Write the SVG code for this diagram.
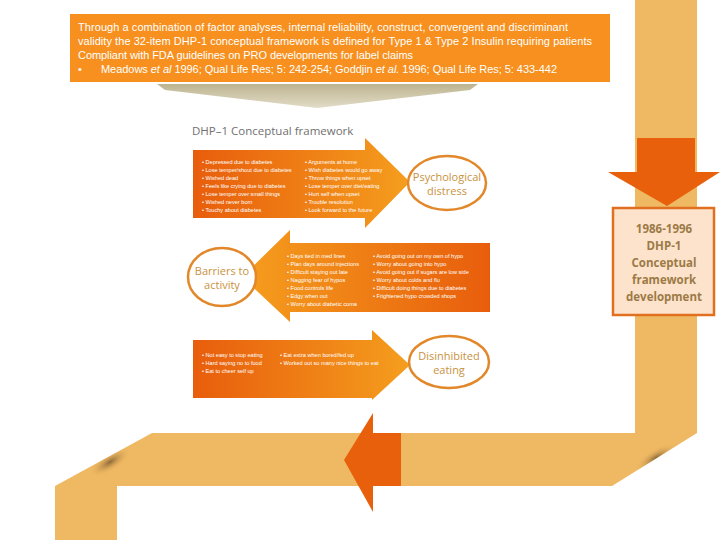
<svg xmlns="http://www.w3.org/2000/svg" width="720" height="540" viewBox="0 0 720 540">
<defs>
<style>
.hdr{font-family:"Liberation Sans",Arial,sans-serif;font-size:11px;fill:#fff}
.b{font-family:"Liberation Sans",Arial,sans-serif;font-size:5.6px;fill:#fff}
.oval{fill:#fff;stroke:#e2882a;stroke-width:2.5}
.ot{font-family:"Open Sans","Liberation Sans",sans-serif;font-size:11px;fill:#c9923e;text-anchor:middle}
.rib{fill:#efb862}
.dk{fill:#e8600c}
</style>
<linearGradient id="ga" x1="0" x2="1" y1="0" y2="0"><stop offset="0" stop-color="#e85d0c"/><stop offset="1" stop-color="#f59e1e"/></linearGradient>
<linearGradient id="gb" x1="1" x2="0" y1="0" y2="0"><stop offset="0" stop-color="#e85d0c"/><stop offset="1" stop-color="#f59e1e"/></linearGradient>
<linearGradient id="gc" x1="0" x2="0" y1="0" y2="1"><stop offset="0" stop-color="#bdb48f"/><stop offset="1" stop-color="#e2dcc8"/></linearGradient>
<radialGradient id="sh" cx="0.5" cy="0.5" r="0.5"><stop offset="0" stop-color="#7a5a30" stop-opacity="0.85"/><stop offset="1" stop-color="#efb862" stop-opacity="0"/></radialGradient>
<clipPath id="bandclip"><polygon points="152,433 697,433 612,486 55,486"/></clipPath>
</defs>
<g id="ribbon">
<rect class="rib" x="635" y="0" width="62" height="433"/>
<polygon class="rib" points="152,433 697,433 612,486 55,486"/>
<rect class="rib" x="55" y="486" width="62" height="54"/>
<g clip-path="url(#bandclip)">
<ellipse cx="656" cy="458" rx="24" ry="9" fill="url(#sh)" transform="rotate(-32 656 458)"/>
<ellipse cx="110" cy="462" rx="24" ry="9" fill="url(#sh)" transform="rotate(-32 110 462)"/>
</g>
</g>
<g id="header">
<rect x="70" y="14" width="540" height="68" fill="#f7901e"/>
<text class="hdr" x="78" y="31" textLength="490">Through a combination of factor analyses, internal reliability, construct, convergent and discriminant</text>
<text class="hdr" x="78" y="45" textLength="514">validity the 32-item DHP-1 conceptual framework is defined for Type 1 &amp; Type 2 Insulin requiring patients</text>
<text class="hdr" x="78" y="59" textLength="335">Compliant with FDA guidelines on PRO developments for label claims</text>
<text class="hdr" x="78" y="73">•<tspan x="101" textLength="456">Meadows <tspan font-style="italic">et al</tspan> 1996; Qual Life Res; 5: 242-254;  Goddjin <tspan font-style="italic">et al.</tspan> 1996; Qual Life Res; 5: 433-442</tspan></text>
</g>
<polygon id="chevron" points="157,84 478,84 470,90 317,108 165,90" fill="url(#gc)"/>
<g id="framework">
<text x="192" y="135" font-family="Open Sans,Liberation Sans,sans-serif" font-size="11.5" fill="#707070">DHP–1 Conceptual framework</text>
<g id="arrow1">
<polygon points="193,150 365,150 365,138 410,182 365,228 365,218 193,218" fill="url(#ga)"/>
<g class="b">
<text x="202" y="164">• Depressed due to diabetes</text><text x="202" y="172">• Lose temper/shout due to diabetes</text><text x="202" y="180">• Wished dead</text><text x="202" y="188">• Feels like crying due to diabetes</text><text x="202" y="196">• Lose temper over small things</text><text x="202" y="204">• Wished never born</text><text x="202" y="212">• Touchy about diabetes</text>
<text x="305" y="164">• Arguments at home</text><text x="305" y="172">• Wish diabetes would go away</text><text x="305" y="180">• Throw things when upset</text><text x="305" y="188">• Lose temper over diet/eating</text><text x="305" y="196">• Hurt self when upset</text><text x="305" y="204">• Trouble resolution</text><text x="305" y="212">• Look forward to the future</text>
</g></g>
<g id="psych"><ellipse class="oval" cx="447" cy="183" rx="39" ry="27"/><text class="ot" x="447" y="181">Psychological</text><text class="ot" x="447" y="195">distress</text></g>
<g id="arrow2">
<polygon points="490,243 290,243 290,230 242,277 290,322 290,312 490,312" fill="url(#gb)"/>
<g class="b">
<text x="287" y="258">• Days tied in med lines</text><text x="287" y="266">• Plan days around injections</text><text x="287" y="274">• Difficult staying out late</text><text x="287" y="282">• Nagging fear of hypos</text><text x="287" y="290">• Food controls life</text><text x="287" y="298">• Edgy when out</text><text x="287" y="306">• Worry about diabetic coma</text>
<text x="373" y="258">• Avoid going out on my own of hypo</text><text x="373" y="266">• Worry about going into hypo</text><text x="373" y="274">• Avoid going out if sugars are low side</text><text x="373" y="282">• Worry about colds and flu</text><text x="373" y="290">• Difficult doing things due to diabetes</text><text x="373" y="298">• Frightened hypo crowded shops</text>
</g></g>
<g id="barriers"><ellipse class="oval" cx="222" cy="277" rx="34" ry="29"/><text class="ot" x="222" y="275">Barriers to</text><text class="ot" x="222" y="289">activity</text></g>
<g id="arrow3">
<polygon points="193,340 372,340 372,330 410,365 372,400 372,398 193,398" fill="url(#ga)"/>
<g class="b">
<text x="202" y="357">• Not easy to stop eating</text><text x="202" y="365">• Hard saying no to food</text><text x="202" y="373">• Eat to cheer self up</text>
<text x="280" y="357">• Eat extra when bored/fed up</text><text x="280" y="365">• Worked out so many nice things to eat</text>
</g></g>
<g id="disinhibited"><ellipse class="oval" cx="449" cy="362" rx="40" ry="26"/><text class="ot" x="449" y="360">Disinhibited</text><text class="ot" x="449" y="374">eating</text></g>
</g>
<g id="connectors">
<polygon class="dk" points="637,138 695,138 695,172 720,172 667,206 608,172 637,172"/>
<polygon class="dk" points="373,413 373,433 401,433 401,486 373,486 373,512 344,460"/>
</g>
<g id="devbox">
<rect x="613" y="208" width="101" height="107" fill="#fde3cc" stroke="#e07020" stroke-width="2.5"/>
<g font-family="Open Sans,Liberation Sans,sans-serif" font-size="11.5" fill="#9c7a46" text-anchor="middle" font-weight="bold">
<text x="664" y="233">1986-1996</text><text x="664" y="250">DHP-1</text><text x="664" y="267">Conceptual</text><text x="664" y="284">framework</text><text x="664" y="301">development</text></g>
</g>
</svg>
